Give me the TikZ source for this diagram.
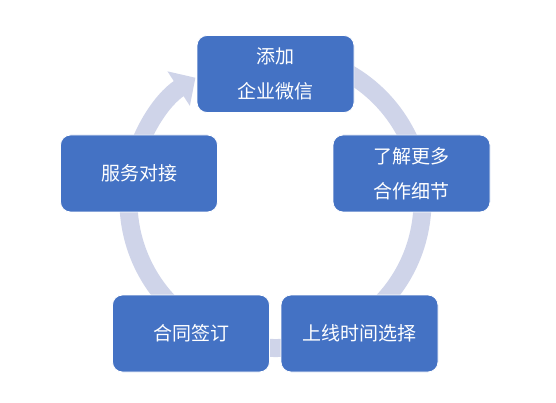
\documentclass[tikz,border=0pt]{standalone}
\usepackage{fontspec}
\usepackage{xcolor}
\usepackage{tikz}
\usetikzlibrary{arrows.meta}
\newfontfamily\cjk{Noto Sans CJK SC}
\definecolor{boxblue}{RGB}{68,114,196}
\definecolor{ringgray}{RGB}{207,212,233}

\begin{document}
\begin{tikzpicture}[x=1pt, y=1pt,
  stage/.style={draw=white, line width=0.8pt, fill=boxblue, text=white, rounded corners=10pt,
    minimum width=157pt, minimum height=77pt, align=center, inner sep=2pt,
    font=\cjk\fontsize{19}{35}\selectfont},
  ring/.style={draw=ringgray, line width=18pt, -{Triangle[width=40pt, length=20pt]}}]
\useasboundingbox (0,0) rectangle (556,-403);
\coordinate (ctr) at (275.5,-201);
% cycle ring behind the boxes
\draw[ring] (ctr) ++(80:147) arc[start angle=80, end angle=-237, radius=147pt];
\node[stage] (add) at (275.5,-74) {添加\\企业微信};
\node[stage] (detail) at (411.5,-173.5) {了解更多\\合作细节};
\node[stage] (launch) at (359.5,-333.5) {上线时间选择};
\node[stage] (sign) at (191,-333.5) {合同签订};
\node[stage] (serve) at (139,-173.5) {服务对接};
\end{tikzpicture}
\end{document}
